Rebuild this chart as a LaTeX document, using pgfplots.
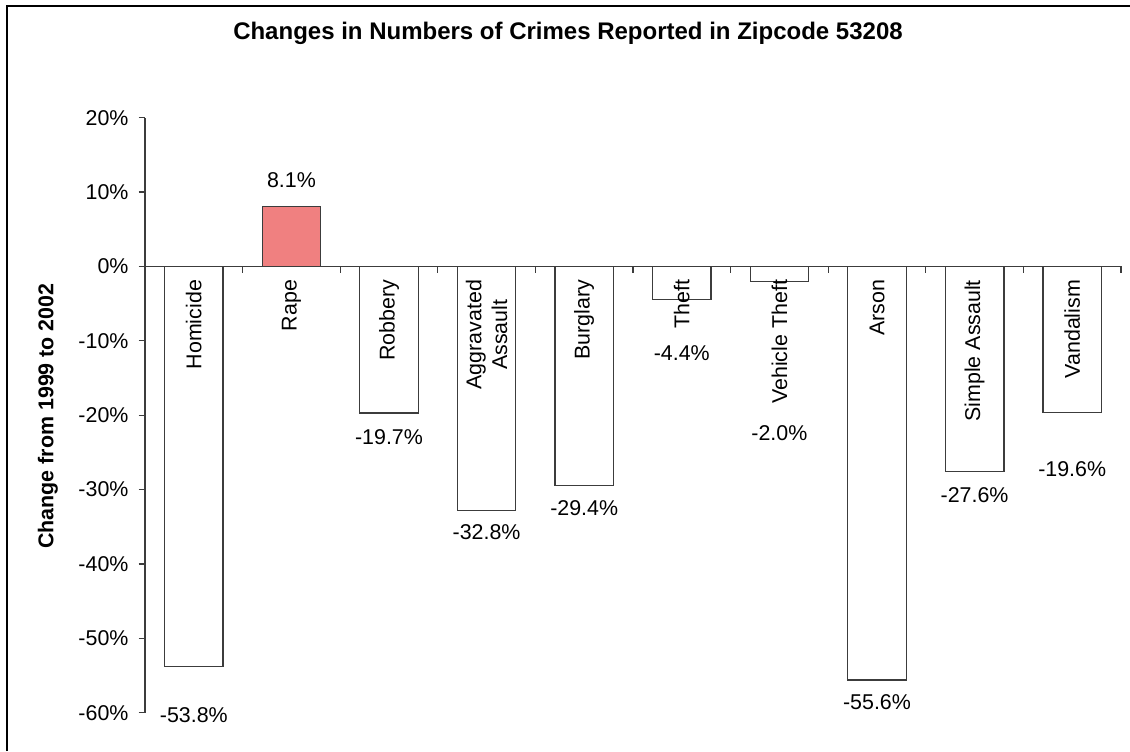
\documentclass[border=0pt]{standalone}
\usepackage{fontspec}
\setmainfont{Liberation Sans}
\usepackage{pgfplots}
\pgfplotsset{compat=1.18}
\usepackage{pgfplotstable}
\newcommand\ff{\fontsize{10.7pt}{12.8pt}\selectfont}
\newcommand\tf{\fontsize{12pt}{14.4pt}\selectfont}
\definecolor{rapefill}{RGB}{240,128,128}
\definecolor{edge}{RGB}{60,60,60}

\pgfplotstableread{
x v ly
0 -53.8 -60.3
1 8.1 11.6
2 -19.7 -22.9
3 -32.8 -35.7
4 -29.4 -32.5
5 -4.4 -11.6
6 -2.0 -22.4
7 -55.6 -58.6
8 -27.6 -30.7
9 -19.6 -27.3
}\crimes

\pgfplotstableread{
x v
0 -53.8
2 -19.7
3 -32.8
4 -29.4
5 -4.4
6 -2.0
7 -55.6
8 -27.6
9 -19.6
}\whitebars

\pgfplotstableread{
x v
1 8.1
}\rapebar

\begin{document}
\begin{tikzpicture}
\path[use as bounding box] (0,0) rectangle (565pt,375.5pt);
\draw[line width=0.9pt] (3.5pt,0) -- (3.5pt,372.5pt) -- (566pt,372.5pt);
\node[font=\tf\bfseries] at (284pt,359pt) {Changes in Numbers of Crimes Reported in Zipcode 53208};
\node[font=\ff\bfseries, rotate=90] at (24pt,167.5pt) {Change from 1999 to 2002};
\begin{axis}[
  at={(72.5pt,19.15pt)}, anchor=south west,
  scale only axis, width=488pt, height=297.5pt,
  xmin=-0.5, xmax=9.5, ymin=-60, ymax=20,
  clip=false, axis on top,
  axis x line=middle, axis y line=left,
  hide obscured x ticks=false, hide obscured y ticks=false,
  axis line style={-, draw=edge, line width=0.6pt},
  /pgf/number format/assume math mode=true,
  ytick={-60,-50,...,20},
  yticklabel={\pgfmathprintnumber{\tick}\%},
  y tick label style={font=\ff, xshift=-1.5pt},
  ytick style={draw=edge, line width=0.6pt},
  tick align=outside,
  major tick length=3.25pt,
  xtick={0,...,9},
  xticklabels={Homicide,Rape,Robbery,{Aggravated\\Assault},Burglary,Theft,Vehicle Theft,Arson,Simple Assault,Vandalism},
  x tick label style={rotate=90, anchor=east, align=center, font=\ff},
  xtick style={draw=none},
  extra x ticks={0.5,1.5,...,9.5},
  extra x tick labels={},
  extra x tick style={xtick style={draw=edge, line width=0.6pt}},
]
\addplot[ybar, bar width=0.6, fill=white, draw=edge, line width=0.6pt] table[x=x, y=v]{\whitebars};
\addplot[ybar, bar width=0.6, fill=rapefill, draw=edge, line width=0.6pt] table[x=x, y=v]{\rapebar};
\addplot[only marks, mark=none, point meta=explicit,
  nodes near coords={\pgfmathprintnumber[fixed,fixed zerofill,precision=1]{\pgfplotspointmeta}\%},
  nodes near coords align={center},
  every node near coord/.append style={anchor=center, font=\ff, text=black}]
  table[x=x, y=ly, meta=v]{\crimes};
\end{axis}
\end{tikzpicture}
\end{document}
